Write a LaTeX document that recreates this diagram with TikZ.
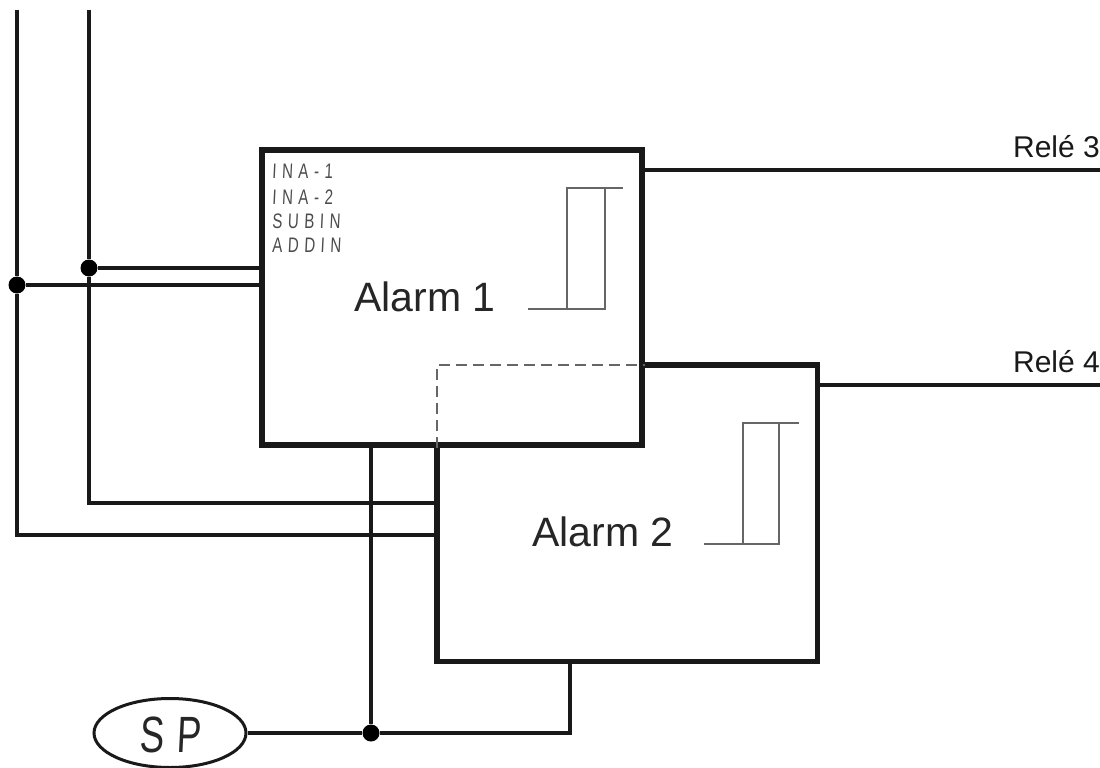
\documentclass[tikz,border=0pt]{standalone}
\usepackage{fontspec}
\setmainfont{Liberation Sans}
\newfontfamily\segfont[FakeSlant=0.05,FakeStretch=0.72,LetterSpace=26]{Liberation Sans}
\newfontfamily\spfont[FakeSlant=0.05,FakeStretch=0.72,LetterSpace=24]{Liberation Sans}
\usetikzlibrary{shapes.geometric}
\tikzset{
  x=1pt,y=-1pt,
  wire/.style={line width=3.6pt,black!90},
  heavy/.style={draw,line width=5.4pt,black!90,rectangle,inner sep=0pt},
  thinl/.style={line width=1.7pt,black!60},
  dot/.style={circle,fill=black,inner sep=0pt,minimum size=17pt},
  lab/.style={font=\fontsize{41}{44}\selectfont,inner sep=0pt,text=black!85},
  rel/.style={font=\fontsize{30}{32}\selectfont,inner sep=0pt,anchor=base east,text=black!90},
  seg/.style={font=\segfont\fontsize{21}{21}\selectfont,inner sep=0pt,anchor=base west,text=black!70},
}
\begin{document}
\begin{tikzpicture}
\useasboundingbox (0,0) rectangle (1100,768);
% boxes
\node[heavy,minimum width=380pt,minimum height=295pt] (a1) at (452,297.5) {};
\node[inner sep=0pt,minimum width=380pt,minimum height=296pt] (a2) at (627,513) {};
\draw[line width=5.4pt,black!90,line join=miter] (a1.east |- a2.north) -- (a2.north east) -- (a2.south east) -- (a2.south west) -- (a2.west |- a1.south);
\draw[line width=2pt,black!60,dash pattern=on 11pt off 6pt] (a2.west |- a1.south) -- (a2.north west) -- (a1.east |- a2.north);
% free ends
\coordinate (t1) at (17,10);
\coordinate (t2) at (89,10);
\node[dot] (d1) at (17,285) {};
\node[dot] (d2) at (89,268) {};
\coordinate (c1) at (17,535);
\coordinate (c2) at (89,503);
\coordinate (r3) at (1100,170);
\coordinate (r4) at (1100,385);
\node[dot] (d3) at (371,733) {};
\node[draw,ellipse,line width=3pt,black!90,minimum width=152pt,minimum height=69pt,inner sep=0pt] (sp) at (170,733) {};
\node[inner sep=0pt,text=black!85] (sptext) at (170,735) {\spfont\fontsize{51}{52}\selectfont SP};
% wires
\draw[wire] (t1) -- (d1) -- (c1) -- (c1 -| a2.west);
\draw[wire] (t2) -- (d2) -- (c2) -- (c2 -| a2.west);
\draw[wire] (d1) -- (d1 -| a1.west);
\draw[wire] (d2) -- (d2 -| a1.west);
\draw[wire] (a1.east |- r3) -- (r3);
\draw[wire] (a2.east |- r4) -- (r4);
\draw[wire] (d3 |- a1.south) -- (d3);
\draw[wire] (sp.east) -- (d3) -- (d3 -| 570,0) -- (570,0 |- a2.south);
% hysteresis
\coordinate (h1a) at (528,309); \coordinate (h1b) at (605,309); \coordinate (h1c) at (605,188);
\coordinate (h1d) at (623,188); \coordinate (h1e) at (567,188); \coordinate (h1f) at (567,309);
\draw[thinl] (h1a) -- (h1b) -- (h1c);
\draw[thinl] (h1f) -- (h1e) -- (h1d);
\coordinate (h2a) at (704,544); \coordinate (h2b) at (779,544); \coordinate (h2c) at (779,423);
\coordinate (h2d) at (799,423); \coordinate (h2e) at (743,423); \coordinate (h2f) at (743,544);
\draw[thinl] (h2a) -- (h2b) -- (h2c);
\draw[thinl] (h2f) -- (h2e) -- (h2d);
% labels
\node[lab] (l1) at (425,297) {Alarm 1};
\node[lab] (l2) at (603,532) {Alarm 2};
\node[rel] (l3) at (1100,157) {Relé 3};
\node[rel] (l4) at (1100,372) {Relé 4};
\node[seg] (s1) at (272,178) {INA-1};
\node[seg] (s2) at (272,204) {INA-2};
\node[seg] (s3) at (272,228) {SUBIN};
\node[seg] (s4) at (272,252) {ADDIN};
\end{tikzpicture}
\end{document}
